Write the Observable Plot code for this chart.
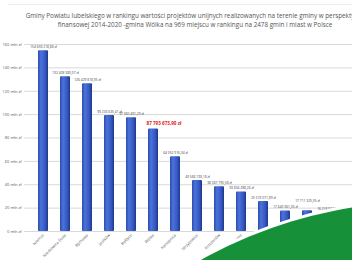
<!DOCTYPE html>
<html><head><meta charset="utf-8">
<script src="https://cdn.jsdelivr.net/npm/d3@7"></script>
<script src="https://cdn.jsdelivr.net/npm/@observablehq/plot@0.6"></script>
<style>
html,body{margin:0;padding:0;background:#fff;overflow:hidden;width:352px;height:260px;}
body{font-family:"Open Sans","Liberation Sans",sans-serif;position:relative;}
#topline{position:absolute;left:8px;top:4px;width:400px;height:0;border-top:1px solid #ececec;}
#title{position:absolute;top:11px;left:0;width:390px;text-align:center;font-size:6.3px;line-height:9px;color:#555;white-space:nowrap;}
#chart{position:absolute;top:36px;left:0;width:396px;}
#chart svg{max-width:none !important;}
#swoosh{position:absolute;left:-31px;top:202px;width:908px;height:908px;border-radius:50%;background:#17903a;box-shadow:0 0 0 3px #fff;}
</style>
</head><body>
<div id="topline"></div>
<div id="title">Gminy Powiatu lubelskiego w rankingu wartości projektów unijnych realizowanych na terenie gminy w perspektywie<br>finansowej 2014-2020 -gmina Wólka na 969 miejscu w rankingu na 2478 gmin i miast w Polsce</div>
<div id="chart"></div>
<div id="swoosh"></div>
<script>
const gminy = ["Niemce","Niedrzwica Duża","Bychawa","Jastków","Bełżyce","Wólka","Konopnica","Strzyżewice","Krzczonów","Wysokie","Jabłonna","Głusk","Zakrzew","Garbów","Borzechów","Wojciechów"];
const wartosci = [154659218.88,132408380.07,126429818.95,99233635.41,97360491.29,87793673.90,64052916.34,43568193.18,38367795.58,33834288.26,25573071.89,17640361.35,17711325.05,16218913.64,12361553.69,10125447.20];
const wyrozniona = "Wólka";
const podniesione = ["Zakrzew"];
const yTicksMln = [0,20,40,60,80,100,120,140,160];

const data = gminy.map((g,i)=>({gmina:g, wartosc:wartosci[i]}));
const pl = d3.formatLocale({decimal:",",thousands:"\u00a0",grouping:[3],currency:["","\u00a0zł"]});
const fmt = pl.format("$,.2f");
const ticks = yTicksMln.map(t=>t*1e6);
const zwykle = data.filter(d => d.gmina !== wyrozniona && !podniesione.includes(d.gmina));

const chart = Plot.plot({
  width: 396, height: 225,
  marginLeft: 24, marginRight: 5, marginTop: 8, marginBottom: 30,
  style: {fontSize: "4px", color: "#595959", fontFamily: "'Open Sans','Liberation Sans',sans-serif", background: "transparent", maxWidth: "none"},
  x: {domain: gminy, paddingInner: 0.55, paddingOuter: 0.5, label: null},
  y: {domain: [0, 160e6], label: null},
  marks: [
    Plot.gridY(ticks, {stroke: "#d9d9d9", strokeOpacity: 1}),
    Plot.axisY(ticks, {tickSize: 0, tickPadding: 3, tickFormat: d => `${d/1e6} mln zł`, label: null, fill: "#595959"}),
    Plot.axisX({tickSize: 0, tickRotate: -45, tickPadding: 3, label: null, fill: "#595959"}),
    Plot.barY(data, {x: "gmina", y: "wartosc", fill: "url(#barGrad)", rx: 1}),
    Plot.text(zwykle, {x: "gmina", y: "wartosc", text: d => fmt(d.wartosc), dy: -4, fontSize: 3.3, fill: "#404040"}),
    Plot.text(data.filter(d => podniesione.includes(d.gmina)), {x: "gmina", y: "wartosc", text: d => fmt(d.wartosc), dy: -10, fontSize: 3.3, fill: "#404040"}),
    Plot.text(data.filter(d => d.gmina === wyrozniona), {x: "gmina", y: "wartosc", text: d => fmt(d.wartosc), dy: -5, dx: -7, textAnchor: "start", fontSize: 4.6, fontWeight: "bold", fill: "#e0201b"})
  ]
});
chart.style.maxWidth = "none";
chart.style.width = "396px";
chart.style.height = "225px";
d3.select(chart).insert("defs", ":first-child").html(
  '<linearGradient id="barGrad" x1="0" x2="1" y1="0" y2="0">' +
  '<stop offset="0%" stop-color="#2a4cb2"/><stop offset="30%" stop-color="#4d72da"/>' +
  '<stop offset="70%" stop-color="#3659c4"/><stop offset="100%" stop-color="#1d378a"/></linearGradient>');
document.getElementById("chart").appendChild(chart);
</script>
</body></html>
